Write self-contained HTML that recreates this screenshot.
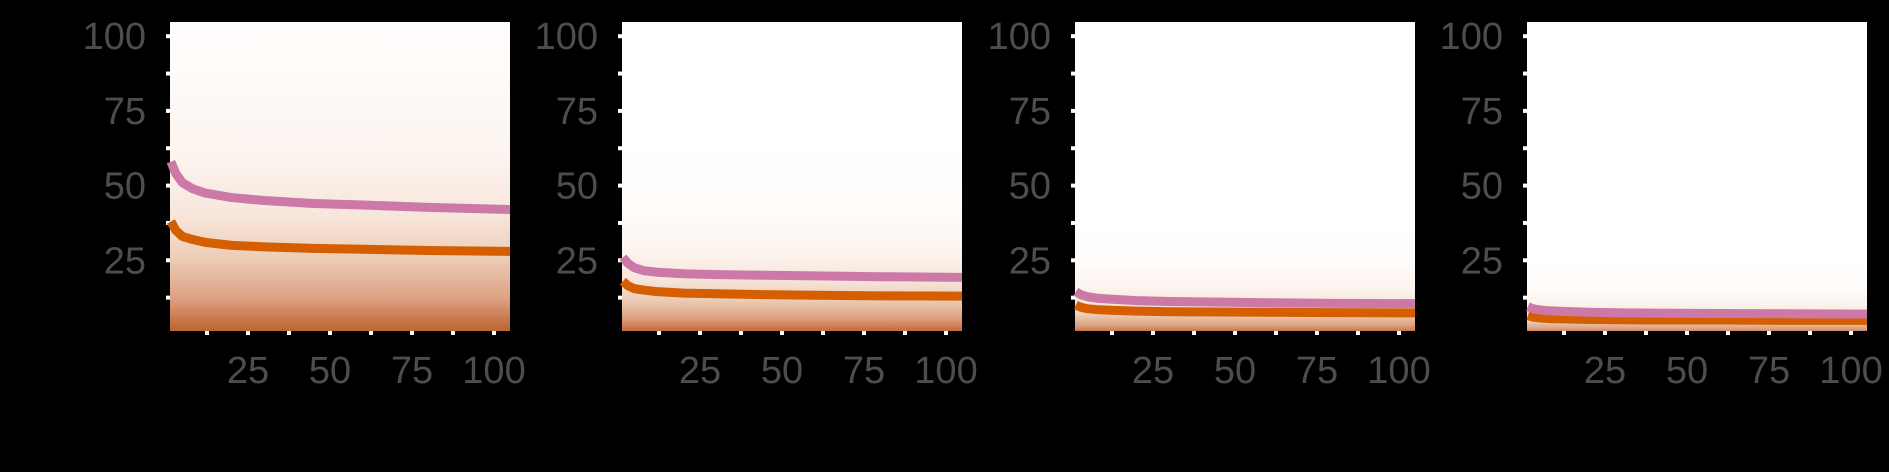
<!DOCTYPE html>
<html><head><meta charset="utf-8">
<style>
html,body{margin:0;padding:0;background:#000;}
svg{display:block;}
text{font-family:"Liberation Sans",sans-serif;fill:#4d4d4d;font-size:38px;}
</style></head>
<body>
<svg id="chart" width="1889" height="472" viewBox="0 0 1889 472"></svg>
<script>
const xs = [1.5,3,5,8,12,20,30,45,60,80,105];
const pinkSeries = [
  [58,54,51,49,47.5,46,45,44,43.5,42.7,42],
  [26,24,22.5,21.5,21,20.5,20.2,20,19.8,19.5,19.3],
  [14.5,13.5,12.8,12.3,12,11.5,11.2,11,10.8,10.6,10.5],
  [9.5,8.8,8.4,8.1,7.9,7.6,7.4,7.3,7.2,7.1,7]
];
const orangeSeries = [
  [38,35,33,32,31,30,29.5,29,28.7,28.3,28],
  [18,16.5,15.5,15,14.5,14,13.8,13.5,13.3,13.1,13],
  [10,9.3,8.8,8.5,8.3,8,7.8,7.7,7.6,7.5,7.4],
  [6.5,6,5.7,5.5,5.4,5.2,5.1,5,5,4.9,4.9]
];
const yTicks = [25,50,75,100];
const xTicks = [25,50,75,100];

const NS = "http://www.w3.org/2000/svg";
const svg = document.getElementById('chart');
function mk(tag, attrs, parent){
  const e = document.createElementNS(NS, tag);
  for (const k in attrs) e.setAttribute(k, attrs[k]);
  (parent||svg).appendChild(e);
  return e;
}
const defs = mk('defs', {});
const panelLeft = [170,622,1075,1527];
const W = 340, plotTop = 22, plotBottom = 331;
const gradStops = [[0,'#b85f2c'],[5,'#c8764a'],[12,'#dca080'],[25,'#eccbb5'],[40,'#f7e6db'],[60,'#fcf4ef'],[90,'#fffcfa'],[140,'#ffffff']];

panelLeft.forEach(function(L, p){
  const xScale = function(v){ return L - 4 + v * (82/25); };
  const yScale = function(v){ return 335 - v * (74.7/25); };
  const g = mk('g', {});
  
  
  const s = orangeSeries[p][orangeSeries[p].length-1] / 28;
  const grad = mk('linearGradient', {id:'bg'+p, gradientUnits:'userSpaceOnUse', x1:0, x2:0, y1:yScale(0), y2:yScale(140*s)}, defs);
  gradStops.forEach(function(st){ mk('stop', {offset:(st[0]/140), 'stop-color':st[1]}, grad); });
  const bg = mk('rect', {x:L, y:plotTop, width:W, height:plotBottom-plotTop, fill:'url(#bg'+p+')'}, g);
  
  
  for (let v = 12.5; v <= 100; v += 12.5) {
    const t = mk('rect', {x:L-4, y:yScale(v)-2, width:4, height:4, fill:'#fff'}, g);
    
    
  }
  for (let v = 12.5; v <= 100; v += 12.5) {
    const t = mk('rect', {x:xScale(v)-2, y:plotBottom, width:4, height:4, fill:'#fff'}, g);
    
    
  }
  yTicks.forEach(function(v){
    const t = mk('text', {x:L-24, y:yScale(v)+13, 'text-anchor':'end'}, g);
    t.textContent = v;
    
    
  });
  xTicks.forEach(function(v){
    const t = mk('text', {x:xScale(v), y:383, 'text-anchor':'middle'}, g);
    t.textContent = v;
    
    
  });
  [[orangeSeries[p],'#d55e00','orange-line'],[pinkSeries[p],'#cc79a7','pink-line']].forEach(function(item){
    const arr = item[0];
    const d = arr.map(function(v,i){ return (i?'L':'M') + Math.min(xScale(xs[i]), L+W) + ',' + yScale(v); }).join(' ');
    const path = mk('path', {d:d, stroke:item[1], 'stroke-width':9, fill:'none', 'stroke-linejoin':'round'}, g);
    
    
  });
});
</script>
</body></html>
